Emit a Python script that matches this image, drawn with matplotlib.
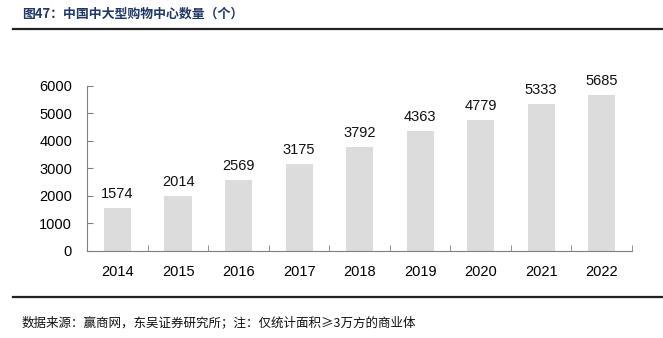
import matplotlib
matplotlib.use("Agg")
import matplotlib.pyplot as plt
from matplotlib.lines import Line2D

years = ["2014", "2015", "2016", "2017", "2018", "2019", "2020", "2021", "2022"]
counts = [1574, 2014, 2569, 3175, 3792, 4363, 4779, 5333, 5685]
y_ticks = [0, 1000, 2000, 3000, 4000, 5000, 6000]

title_text = "图47：中国中大型购物中心数量（个）"
source_text = "数据来源：赢商网，东吴证券研究所；注：仅统计面积≥3万方的商业体"

cjk = ["Noto Sans CJK SC", "DejaVu Sans"]
num_font = "Liberation Sans"

fig = plt.figure(figsize=(6.63, 3.38), dpi=100)
ax = fig.add_axes([0.1317, 0.2574, 0.8215, 0.4882])

x = list(range(len(years)))
ax.bar(x, counts, width=0.45, color="#DCDCDC", zorder=2)
for xi, v in zip(x, counts):
    ax.annotate(f"{v}", (xi, v), xytext=(0, 5), textcoords="offset points",
                ha="center", va="bottom", fontsize=10.5, family=num_font, color="#111111")

ax.set_xlim(-0.5, len(years) - 0.5)
ax.set_ylim(0, 6000)
ax.set_yticks(y_ticks)
ax.set_yticklabels([str(t) for t in y_ticks], family=num_font, fontsize=10.5)
ax.set_xticks(x)
ax.set_xticklabels(years, family=num_font, fontsize=10.5)
ax.tick_params(axis="x", length=0, pad=10)
ax.set_xticks([i + 0.5 for i in range(-1, len(years))], minor=True)
ax.tick_params(axis="x", which="minor", direction="in", length=4, color="#808080")
ax.tick_params(axis="y", direction="in", length=4, color="#808080", pad=11)

for side in ("top", "right"):
    ax.spines[side].set_visible(False)
for side in ("left", "bottom"):
    ax.spines[side].set_color("#808080")
    ax.spines[side].set_linewidth(0.8)

fig.text(0.033, 0.958, title_text, family=cjk, fontsize=9.3, fontweight="bold",
         color="#1F3864", ha="left", va="center")
fig.add_artist(Line2D([0.02, 1.0], [0.915, 0.915], transform=fig.transFigure,
                      color="#222222", linewidth=1.6))
fig.add_artist(Line2D([0.02, 1.0], [0.121, 0.121], transform=fig.transFigure,
                      color="#222222", linewidth=1.6))
fig.text(0.033, 0.044, source_text, family=cjk, fontsize=9.0,
         color="#111111", ha="left", va="center")

fig.savefig("out.png", dpi=100)
